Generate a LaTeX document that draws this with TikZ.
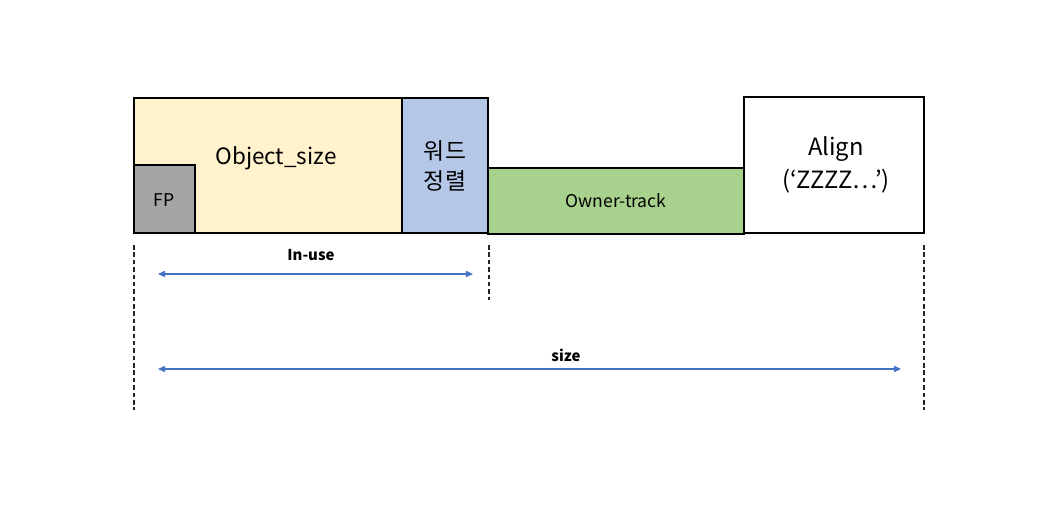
\documentclass[tikz,border=0pt]{standalone}
\usepackage{fontspec}
\setmainfont{Noto Sans CJK KR}
\usetikzlibrary{arrows.meta}

\definecolor{objfill}{HTML}{FFF2CC}
\definecolor{fpfill}{HTML}{A5A5A5}
\definecolor{wordfill}{HTML}{B4C7E7}
\definecolor{ownerfill}{HTML}{A9D18E}
\definecolor{dimblue}{HTML}{4472C4}

\tikzset{
	box/.style={draw, line width=0.75pt},
	guide/.style={line width=0.9pt, dash pattern=on 2.6pt off 1.6pt, black!85},
	dim/.style={{Triangle[length=4pt,width=3.5pt]}-{Triangle[length=4pt,width=3.5pt]}, dimblue, line width=0.6pt},
}

\begin{document}
\begin{tikzpicture}[x=0.02cm, y=-0.02cm]
	\useasboundingbox (0, 0) rectangle (1059, 523);
	\fill[white] (0, 0) rectangle (1059, 523);
	\coordinate (O1) at (134, 98);
	\coordinate (O2) at (402, 233);
	\coordinate (W2) at (488, 233);
	\coordinate (T1) at (488, 168);
	\coordinate (T2) at (744, 234);
	\coordinate (A1) at (744, 97);
	\coordinate (A2) at (924, 233);
	\coordinate (F1) at (134, 165);
	\coordinate (F2) at (195, 233);
	\draw [box, fill=objfill] (O1) rectangle (O2);
	\draw [box, fill=fpfill] (F1) rectangle (F2);
	\draw [box, fill=wordfill] (O1 -| O2) rectangle (W2);
	\draw [box, fill=ownerfill] (T1) rectangle (T2);
	\draw [box, fill=white] (A1) rectangle (A2);
	\node (objlabel) [font=\fontsize{12.8}{16}\selectfont] at (276, 158) {Object\_size};
	\node (fplabel) [font=\fontsize{10}{12}\selectfont] at (164, 200) {FP};
	\node (wordlabel) [align=center, font=\fontsize{13}{17}\selectfont] at (445, 166) {워드\\정렬};
	\node (ownerlabel) [font=\fontsize{10}{12}\selectfont] at (616, 201) {Owner-track};
	\node (alignlabel) [align=center, font=\fontsize{13.5}{18.5}\selectfont] at (836, 165) {Align\\(‘ZZZZ…’)};
	% guide lines
	\coordinate (G1) at (134, 245);
	\coordinate (G2) at (489, 245);
	\coordinate (G3) at (924, 245);
	\draw [guide] (G1) -- +(0, 165);
	\draw [guide] (G2) -- +(0, 55);
	\draw [guide] (G3) -- +(0, 165);
	% dimensions
	\coordinate (U1) at (158, 274);
	\coordinate (U2) at (473, 274);
	\coordinate (S1) at (158, 369);
	\coordinate (S2) at (901, 369);
	\draw [dim] (U1) -- (U2);
	\draw [dim] (S1) -- (S2);
	\node (inuse) [font=\fontsize{8.5}{10}\selectfont\bfseries] at (311, 255) {In-use};
	\node (size) [font=\fontsize{8.5}{10}\selectfont\bfseries] at (566, 355) {size};
\end{tikzpicture}
\end{document}
